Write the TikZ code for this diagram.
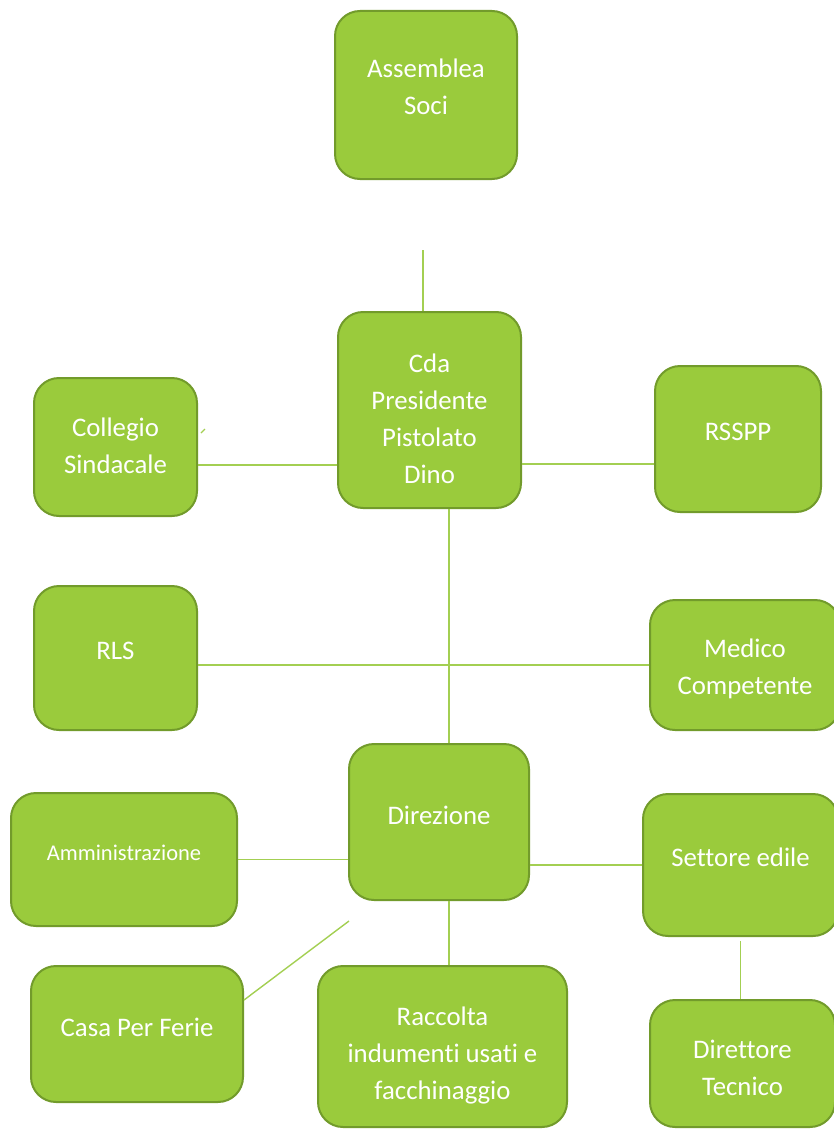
\documentclass[tikz,border=0pt]{standalone}
\usepackage{fontspec}
\setmainfont{Carlito}[Ligatures=NoCommon]
\usetikzlibrary{positioning}
\definecolor{unit green}{HTML}{9ACB3C}
\definecolor{unit edge}{HTML}{729B2B}
\definecolor{link green}{HTML}{A3CF52}
\tikzset{
    % Fills and lines
    unit fill/.style={fill=unit green},
    link/.style={color=link green, line width=1.4pt},
%
    % Centre aligned node text
    every node/.style={align=center},
}

\begin{document}
\begin{tikzpicture}[
    unit/.style={draw=unit edge, line width=2pt, unit fill, rounded corners=25pt,
        inner sep=0pt},
    caption/.style={text=white, font=\fontsize{26.8}{37}\selectfont},
    size/.style 2 args={minimum width=#1, minimum height=#2},
    % text set a little off the box centre, as in the original
    says/.style 2 args={label={[caption, yshift=#1]center:#2}},
    x=1pt, y=-1pt,
]
\useasboundingbox (0,0) rectangle (833,1129);

\path
    (426,95) node [unit, size={182pt}{168pt},
        says={8pt}{Assemblea\\Soci}] (assemblea) {}
    (429.5,410) node [unit, size={183pt}{196pt},
        says={-9pt}{Cda\\Presidente\\Pistolato\\Dino}] (cda) {}
    (115.5,447) node [unit, size={163pt}{138pt},
        says={1pt}{Collegio\\Sindacale}] (collegio) {}
    (738,439) node [unit, size={166pt}{146pt}, says={7pt}{RSSPP}] (rsspp) {}
    (115.5,658) node [unit, size={163pt}{144pt}, says={7pt}{RLS}] (rls) {}
    (745,665) node [unit, size={190pt}{130pt},
        says={-4pt}{Medico\\Competente}] (medico) {}
    (439,822) node [unit, size={180pt}{156pt}, says={7pt}{Direzione}] (direzione) {}
    (124,859.5) node [unit, size={226pt}{133pt},
        label={[caption, font=\fontsize{22.5}{30}\selectfont, yshift=7pt]center:Amministrazione}]
        (amministrazione) {}
    (740.5,865) node [unit, size={195pt}{142pt}, says={8pt}{Settore edile}] (settore) {}
    (137,1034) node [unit, size={212pt}{136pt}, says={7pt}{Casa Per Ferie}] (casa) {}
    (442.5,1046.5) node [unit, size={249pt}{161pt},
        says={-9pt}{Raccolta\\indumenti usati e\\facchinaggio}] (raccolta) {}
    (742.5,1063.5) node [unit, size={185pt}{127pt},
        says={-4pt}{Direttore\\Tecnico}] (direttore) {};

% loose ends
\coordinate (stub) at (423,250);
\coordinate (tick a) at (201,433);
\coordinate (tick b) at (205,429);
\coordinate (casa end) at (349,921);

\draw [link] (stub) -- (stub |- cda.north);
\draw [link] (tick a) -- (tick b);
\draw [link] ([yshift=-18pt]collegio.east) -- ([yshift=-18pt]collegio.east -| cda.west);
\draw [link] ([yshift=-25pt]rsspp.west) -- ([yshift=-25pt]rsspp.west -| cda.east);
\draw [link] ([xshift=10pt]direzione.north) -- ([xshift=10pt]direzione.north |- cda.south);
\draw [link] (medico.west) -- (medico.west -| rls.east);
\draw [link] (amministrazione.east) -- (amministrazione.east -| direzione.west);
\draw [link] (settore.west) -- (settore.west -| direzione.east);
\draw [link] ([xshift=10pt]direzione.south) -- ([xshift=10pt]direzione.south |- raccolta.north);
\draw [link] ([yshift=-4pt]settore.south) -- (settore.south |- direttore.north);
\draw [link] ([yshift=34pt]casa.east) -- (casa end);

\end{tikzpicture}
\end{document}
